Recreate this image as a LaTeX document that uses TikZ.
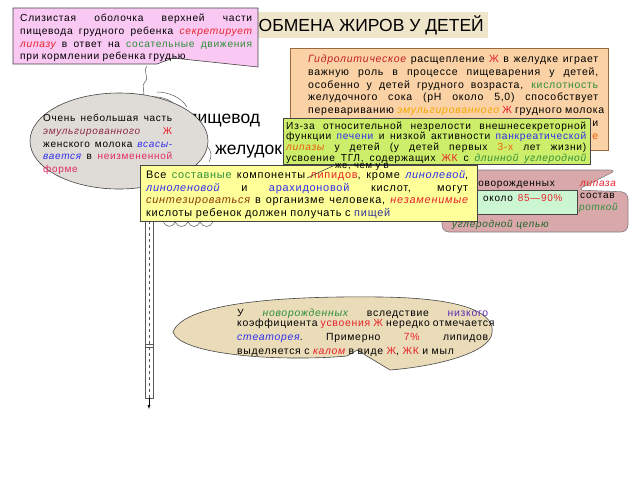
\documentclass[tikz,border=0pt]{standalone}
\usepackage{fontspec}
\setmainfont{Liberation Sans}
\newfontfamily\slide[LetterSpace=7]{Liberation Sans}
\usepackage{tikz}

\definecolor{pinkbox}{HTML}{F9C9F3}
\definecolor{titlebox}{HTML}{EFE5CB}
\definecolor{peach}{HTML}{FAD2A6}
\definecolor{lime}{HTML}{CDEE6A}
\definecolor{lemon}{HTML}{FFFF99}
\definecolor{stone}{HTML}{DFDBD6}
\definecolor{rosy}{HTML}{D9A8AA}
\definecolor{mint}{HTML}{CCF5D2}
\definecolor{sand}{HTML}{EADCB9}
\definecolor{rim}{HTML}{454545}
\definecolor{umber}{HTML}{9A6A3A}
\definecolor{tred}{HTML}{E8222A}
\definecolor{tgreen}{HTML}{2F8F3A}
\definecolor{tblue}{HTML}{2E2EF0}
\definecolor{tmaroon}{HTML}{8E2A4A}
\definecolor{tcrimson}{HTML}{E22A62}
\definecolor{torange}{HTML}{F7A600}
\definecolor{tamber}{HTML}{E8600C}
\definecolor{tbrown}{HTML}{8B3A0A}
\definecolor{tnavy}{HTML}{333399}
\definecolor{tpurple}{HTML}{5B2DB5}

\newlength\jw
\newcommand\jl[1]{{\spaceskip=0.3em plus 1fil\xspaceskip=0.3em plus 1fil\makebox[\jw][s]{#1}}}
\newcommand\redup[1]{\textcolor{tred}{#1}}
\newcommand\redit[1]{\textcolor{tred}{\itshape #1}}
\newcommand\grnup[1]{\textcolor{tgreen}{#1}}
\newcommand\grnit[1]{\textcolor{tgreen}{\itshape #1}}
\newcommand\bluup[1]{\textcolor{tblue}{#1}}
\newcommand\bluit[1]{\textcolor{tblue}{\itshape #1}}

\begin{document}
\begin{tikzpicture}[x=1pt,y=-1pt,
  txt/.style={anchor=base west,inner sep=0pt,align=left,font=\slide\fontsize{10}{12.8}\selectfont},
  jwidth/.style={text width=#1,execute at begin node={\setlength\jw{#1pt}}},
  box/.style={draw=rim,line width=0.6pt},
  tube/.style={draw=gray!70!black,line width=0.5pt}]
\useasboundingbox (0,0) rectangle (640,480);

% esophagus, stomach and gut
\draw[tube] (147,66) .. controls (142,72) and (150,77) .. (145,82) .. controls (140,88) and (147,91) .. (142,97);
\draw[tube] (152,97) .. controls (163,96) and (175,101) .. (181,112);
\draw[tube] (157,92) .. controls (168,92) and (181,97) .. (187,107);
\draw[tube] (207,146) .. controls (212,151) and (212,157) .. (209,162);
\draw[tube] (163,221) .. controls (166,228) and (172,228) .. (175,222) .. controls (178,228) and (185,228) .. (188,222)
  .. controls (191,228) and (197,228) .. (200,222) .. controls (203,228) and (210,228) .. (213,222);
\draw[tube] (145,221) -- (145,398) -- (153,398) -- (153,221);
\draw[tube,dashed] (149,221) -- (149,398);
\draw[tube] (145,344) -- (153,344) (145,347) -- (153,347);
\draw[-latex] (149,398) -- (149,409);

\fill[titlebox] (252,12) rectangle (488,38);
\node[anchor=base east,inner sep=0pt,font=\fontsize{17.5}{20}\selectfont] (title) at (484,31) {ОБМЕНА ЖИРОВ У ДЕТЕЙ};

\draw[box,fill=pinkbox] (13,8) -- (258,8) -- (258,67) -- (173,58) -- (157,64) -- (13,64) -- cycle;
\node[txt,jwidth=232,font=\slide\fontsize{10.2}{12.8}\selectfont] (mucosa) at (20,21.5) {%
\jl{Слизистая оболочка верхней части}\\
\jl{пищевода грудного ребенка \redit{секретирует}}\\
\jl{\redit{липазу} в ответ на \grnup{сосательные движения}}\\
при кормлении ребенка грудью};

\node[anchor=base west,inner sep=0pt,font=\fontsize{17.5}{20}\selectfont] (esoph) at (188,123) {пищевод};
\node[anchor=base west,inner sep=0pt,font=\fontsize{17.5}{20}\selectfont] (stomach) at (215,154) {желудок};

\draw[box,fill=stone] (119,141) ellipse [x radius=89,y radius=48];
\node[txt,jwidth=129] (milk) at (43,121.5) {%
\jl{Очень небольшая часть}\\
\jl{\textcolor{tmaroon}{\itshape эмульгированного} \redup{Ж}}\\
\jl{женского молока \bluit{всасы-}}\\
\jl{\bluit{вается} в \textcolor{tcrimson}{неизмененной}}\\
\textcolor{tcrimson}{форме}};

\draw[draw=umber,line width=0.8pt,fill=peach] (290,48) rectangle (608,150);
\node[txt,jwidth=290,font=\slide\fontsize{10.5}{12.8}\selectfont] (hydro) at (308,62.5) {%
\jl{\textcolor{tred!85!black}{\itshape Гидролитическое} расщепление \redup{Ж} в желудке играет}\\
\jl{важную роль в процессе пищеварения у детей,}\\
\jl{особенно у детей грудного возраста, \grnup{кислотность}}\\
\jl{желудочного сока (pH около 5,0) способствует}\\
\jl{перевариванию \textcolor{torange}{\itshape эмульгированного} \redup{Ж} грудного молока}\\
\hfill и\\
\hfill\textcolor{tamber}{е}};

\draw[box,fill=rosy,draw=gray,rounded corners=7pt] (442,170) -- (617,170) -- (577,190) -- (628,192) -- (628,232) -- (442,232) -- cycle;
\node[txt] (newborn) at (472,186.5) {новорожденных};
\node[txt] (lipase) at (580,186.5) {\redit{липаза}};
\node[txt] (compos) at (580,198.5) {состав};
\node[txt,anchor=base east] (short) at (618,210.5) {\grnit{короткой}};
\node[txt] (chain) at (452,227) {\textcolor{tgreen!70!black}{\itshape углеродной цепью}};
\draw[box,fill=mint] (477,190) rectangle (577,214);
\node[txt] (share) at (483,201) {около\enspace\redup{85—90\%}};

\draw[box,fill=lime] (283,118) rectangle (590,164);
\node[txt,jwidth=300,font=\slide\fontsize{10.2}{8.7}\selectfont] (immature) at (286,129) {%
\jl{Из-за относительной незрелости внешнесекреторной}\\
\jl{функции \bluup{печени} и низкой активности \bluup{панкреатической}}\\
\jl{\textcolor{tamber}{\itshape липазы} у детей (у детей первых \textcolor{tamber}{3-х} лет жизни)}\\
\jl{усвоение ТГЛ, содержащих \redup{ЖК} с \grnit{длинной углеродной}}};

\draw[box,fill=lemon] (140,165) rectangle (477,221);
\node[txt,jwidth=322,font=\slide\fontsize{10.9}{12.7}\selectfont] (essential) at (146,178.5) {%
\jl{Все \grnup{составные} компоненты \redup{липидов}, кроме \bluit{линолевой},}\\
\jl{\bluit{линоленовой} и \bluup{арахидоновой} кислот, могут}\\
\jl{\textcolor{tbrown}{\itshape синтезироваться} в организме человека, \redit{незаменимые}}\\
кислоты ребенок должен получать с \textcolor{tnavy}{пищей}};
\draw[draw=rim,line width=0.6pt] (337,164) -- (307,178);
\node[txt,font=\slide\fontsize{9.5}{8.7}\selectfont] (worse) at (335,168) {же, чем у в};

\draw[box,fill=sand] (173,332) .. controls (185,300) and (300,296) .. (380,297)
  .. controls (470,298) and (495,315) .. (492,333) .. controls (490,352) and (440,366) .. (390,370)
  -- (357,350) -- (347,356) .. controls (280,362) and (180,355) .. cycle;
\node[txt,jwidth=251,font=\slide\fontsize{10.4}{14}\selectfont] (steat) at (237,316.5) {%
\jl{У \grnit{новорожденных} вследствие \textcolor{tpurple}{низкого}}\\[-4pt]
\jl{коэффициента \redup{усвоения Ж} нередко отмечается}\\
\jl{\bluit{стеаторея}. Примерно \redup{7\%} липидов}\\
выделяется с \redit{калом} в виде \redup{Ж}, \redup{ЖК} и мыл};
\end{tikzpicture}
\end{document}
